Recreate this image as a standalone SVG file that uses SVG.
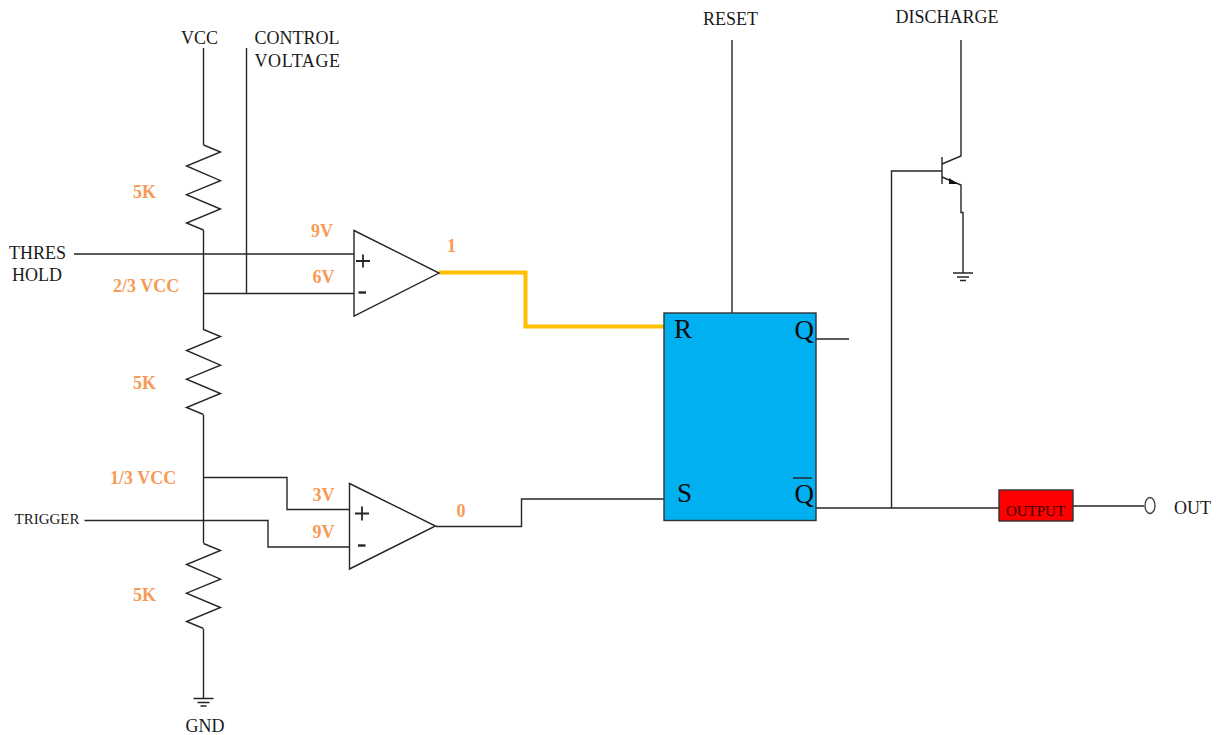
<svg xmlns="http://www.w3.org/2000/svg" width="1221" height="735" viewBox="0 0 1221 735">
<style>
.w{fill:none;stroke:#262626;stroke-width:1.4;stroke-linejoin:miter}
.t{font-family:"Liberation Serif",serif;fill:#1a1a1a;font-size:18px}
.o{font-family:"Liberation Serif",serif;fill:#F79A55;font-size:18px;font-weight:bold}
.c{text-anchor:middle}
.b{font-family:"Liberation Serif",serif;fill:#0a0a0a;font-size:27px}
</style>
<defs>
<path id="res" class="w" d="M0 0L17 7L-17 21L17 35.700L-17 49.700L17 64L-17 78L0 85"/>
<path id="gnd" class="w" d="M-10 0H10M-6 4H6M-3 7.500H3"/>
</defs>
<rect width="1221" height="735" fill="#fff"/>
<g id="connectors">
<path class="w" d="M203.500 48V145M203.500 230V330M203.500 415V543M203.500 629V698"/>
<path class="w" d="M246.500 48V293.500"/>
<path class="w" d="M74 254H354"/>
<path class="w" d="M203.500 293.500H354"/>
<path class="w" d="M203.500 477.500H287V509.500H349.500"/>
<path class="w" d="M84.500 520.500H268V547H349.500"/>
<path class="w" d="M436 526.500H521.500V499H664"/>
<path d="M439 272.500H525.500V326.500H664" fill="none" stroke="#FFC000" stroke-width="4"/>
<path class="w" d="M732 40V313"/>
<path class="w" d="M816 339H849"/>
<path class="w" d="M816 508H999"/>
<path class="w" d="M1073 506H1144"/>
<path class="w" d="M891.500 508V171H942"/>
<path class="w" d="M961 40V156L942 164"/>
<path class="w" d="M942 177L961 185V212.500H963V273"/>
</g>
<g id="vcc-label"><text class="t c" x="199.500" y="44">VCC</text></g>
<g id="control-label"><text class="t" x="254.500" y="44" textLength="85" lengthAdjust="spacing">CONTROL</text><text class="t" x="254.500" y="66.500" textLength="85.500" lengthAdjust="spacing">VOLTAGE</text></g>
<g id="threshold-label"><text class="t c" x="37.500" y="259">THRES</text><text class="t c" x="37" y="281">HOLD</text></g>
<g id="trigger-label"><text class="t c" x="47" y="523.500" style="font-size:15px">TRIGGER</text></g>
<g id="gnd-label"><text class="t c" x="205" y="732">GND</text></g>
<g id="reset-label"><text class="t c" x="730.500" y="25">RESET</text></g>
<g id="discharge-label"><text class="t c" x="947" y="22.500">DISCHARGE</text></g>
<g id="out-label"><text class="t c" x="1192.500" y="514">OUT</text></g>
<g id="r1"><use href="#res" x="203.500" y="145"/><text class="o c" x="144.500" y="198">5K</text></g>
<g id="r2"><use href="#res" x="203.500" y="329.500"/><text class="o c" x="144.500" y="389">5K</text></g>
<g id="r3"><use href="#res" x="203.500" y="543.500"/><text class="o c" x="144.500" y="601">5K</text></g>
<g id="gnd-left"><use href="#gnd" x="203.500" y="698.500"/></g>
<g id="gnd-right"><use href="#gnd" x="963" y="273"/></g>
<g id="comp1">
<path class="w" d="M354 230.500L439 273L354 316Z" fill="#fff"/>
<path d="M356 261H370M363 254.500V267.500" fill="none" stroke="#262626" stroke-width="1.800"/>
<path d="M358.500 292.500H366" fill="none" stroke="#262626" stroke-width="2.400"/>
</g>
<g id="comp2">
<path class="w" d="M349.500 483.500L435.500 526L349.500 569Z"/>
<path d="M355 513.500H369M362 506.500V520.500" fill="none" stroke="#262626" stroke-width="1.800"/>
<path d="M358 545.500H365.500" fill="none" stroke="#262626" stroke-width="2.400"/>
</g>
<g id="labels-v">
<text class="o c" x="322" y="237">9V</text>
<text class="o c" x="323.500" y="283">6V</text>
<text class="o c" x="451.500" y="252">1</text>
<text class="o" x="113" y="291.500">2/3 VCC</text>
<text class="o" x="110" y="484">1/3 VCC</text>
<text class="o c" x="323.500" y="501">3V</text>
<text class="o c" x="323.500" y="538">9V</text>
<text class="o c" x="461" y="517">0</text>
</g>
<g id="flipflop">
<rect x="664" y="313" width="152" height="207.500" fill="#00B0F0" stroke="#333" stroke-width="1.400"/>
<text class="b" x="674" y="338">R</text>
<text class="b" x="794.500" y="339">Q</text>
<text class="b" x="677" y="502">S</text>
<text class="b" x="794.500" y="503">Q</text>
<path d="M793 478H812" stroke="#222" stroke-width="1.400"/>
</g>
<g id="transistor">
<path class="w" d="M942 157V184"/>
<path d="M949 178L958 184L949 184Z" fill="#111"/>
</g>
<g id="output">
<rect x="999" y="490" width="74" height="31" fill="#FF0000" stroke="#333" stroke-width="1.400"/>
<text class="c" x="1035.500" y="516" style="font-family:'Liberation Serif',serif;font-size:15px;fill:#300">OUTPUT</text>
</g>
<g id="out-terminal"><ellipse cx="1150" cy="505.500" rx="5" ry="8" fill="#fff" stroke="#444" stroke-width="1.400"/></g>
</svg>
